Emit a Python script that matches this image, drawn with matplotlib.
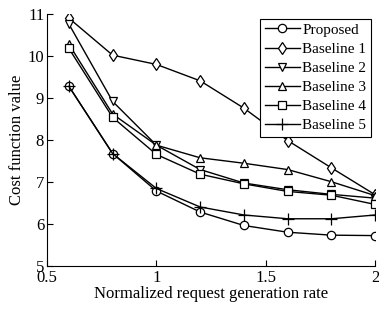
import matplotlib
matplotlib.use("Agg")
import matplotlib.pyplot as plt

x = [0.6, 0.8, 1.0, 1.2, 1.4, 1.6, 1.8, 2.0]
proposed = [9.28, 7.68, 6.79, 6.29, 5.97, 5.81, 5.74, 5.73]
baseline1 = [10.90, 10.02, 9.80, 9.41, 8.76, 7.99, 7.34, 6.70]
baseline2 = [10.76, 8.92, 7.88, 7.30, 6.98, 6.82, 6.71, 6.62]
baseline3 = [10.28, 8.62, 7.88, 7.58, 7.45, 7.30, 7.01, 6.68]
baseline4 = [10.18, 8.54, 7.66, 7.19, 6.96, 6.78, 6.69, 6.47]
baseline5 = [9.28, 7.68, 6.85, 6.41, 6.22, 6.13, 6.13, 6.22]

names = ["Proposed", "Baseline 1", "Baseline 2", "Baseline 3", "Baseline 4", "Baseline 5"]
series = [proposed, baseline1, baseline2, baseline3, baseline4, baseline5]
markers = ["o", "d", "v", "^", "s", "+"]

plt.rcParams['font.family'] = ['Liberation Serif', 'DejaVu Serif']

fig = plt.figure(figsize=(3.79, 3.10), dpi=100)
ax = fig.add_axes([0.124, 0.141, 0.866, 0.814])

for name, ys, m in zip(names, series, markers):
    ax.plot(x, ys, color='black', linewidth=1.0, marker=m, markersize=6 if m != '+' else 8,
            markerfacecolor='white' if m != '+' else 'black', markeredgecolor='black',
            markeredgewidth=0.9, label=name)

ax.set_xlim(0.5, 2.0)
ax.set_ylim(5, 11)
ax.set_xticks([0.5, 1, 1.5, 2])
ax.set_xticklabels(["0.5", "1", "1.5", "2"])
ax.set_yticks([5, 6, 7, 8, 9, 10, 11])
ax.tick_params(direction='in', labelsize=12, length=4, width=0.8, pad=2)
ax.tick_params(axis='x', pad=3)
for s in ['top', 'right']:
    ax.spines[s].set_visible(False)
ax.set_xlabel("Normalized request generation rate", fontsize=12, labelpad=0)
ax.set_ylabel("Cost function value", fontsize=12, labelpad=2)

leg = ax.legend(loc='upper right', fontsize=11, frameon=True, fancybox=False,
                edgecolor='black', framealpha=1, handlelength=2.3, handletextpad=0.15,
                borderpad=0.3, labelspacing=0.35, borderaxespad=0.3)
leg.get_frame().set_linewidth(0.8)

fig.savefig("out.png", dpi=100)
